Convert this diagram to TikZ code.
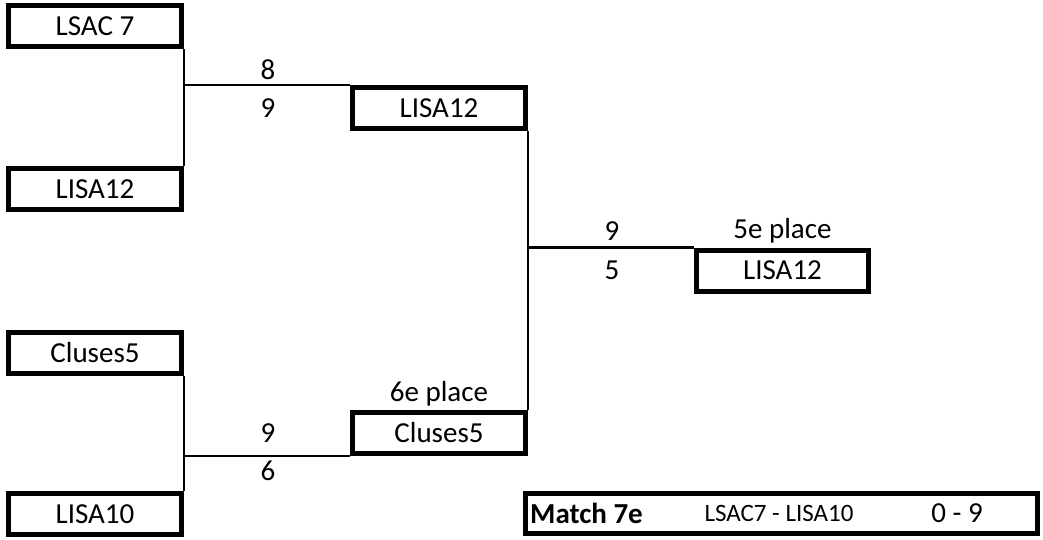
\documentclass[tikz,border=0pt]{standalone}
\usepackage{fontspec}
\setmainfont{Carlito}
\begin{document}
\begin{tikzpicture}[x=1pt,y=-1pt,
  team/.style={draw,line width=5pt,minimum width=173pt,minimum height=41pt,inner sep=0pt,font=\fontsize{29}{32}\selectfont},
  lbl/.style={inner sep=0pt,font=\fontsize{29}{32}\selectfont},
  wire/.style={line width=2.2pt}]
\useasboundingbox (0,0) rectangle (1043,540);
% first round
\node[team] (a) at (95,26) {LSAC 7};
\node[team] (b) at (95,189) {LISA12};
\node[team] (c) at (95,353) {Cluses5};
\node[team] (d) at (95,514) {LISA10};
% second round
\node[team] (m1) at (439,108) {LISA12};
\node[team] (m2) at (439,433) {Cluses5};
% final
\node[team, minimum width=172pt] (r) at (782.5,270.5) {LISA12};
% match box
\node[draw,line width=5pt,minimum width=512pt,minimum height=40pt,inner sep=0pt] (mb) at (781.5,513) {};
\node[lbl,anchor=west,font=\fontsize{29}{32}\selectfont\bfseries] (mt) at (530,513) {Match 7e};
\node[lbl,font=\fontsize{25}{28}\selectfont] (mm) at (779,513) {LSAC7 - LISA10};
\node[lbl] (ms) at (957,513) {0 - 9};
% connectors
\draw[wire] (a.south east) -- (b.north east);
\draw[wire] (m1.north west) -- (m1.north west -| a.east);
\draw[wire] (c.south east) -- (d.north east);
\draw[wire] (m2.south west) -- (m2.south west -| c.east);
\draw[wire] (m1.south east) -- (m2.north east);
\draw[wire] (r.north west) -- (r.north west -| m1.east);
% scores
\node[lbl] (s1) at (268,70) {8};
\node[lbl] (s2) at (268,108) {9};
\node[lbl] (s3) at (268,433) {9};
\node[lbl] (s4) at (268,471) {6};
\node[lbl] (s5) at (612,231) {9};
\node[lbl] (s6) at (612,270) {5};
\node[lbl] (p5) at (782.5,231) {5e place};
\node[lbl] (p6) at (439,394) {6e place};
\end{tikzpicture}
\end{document}
